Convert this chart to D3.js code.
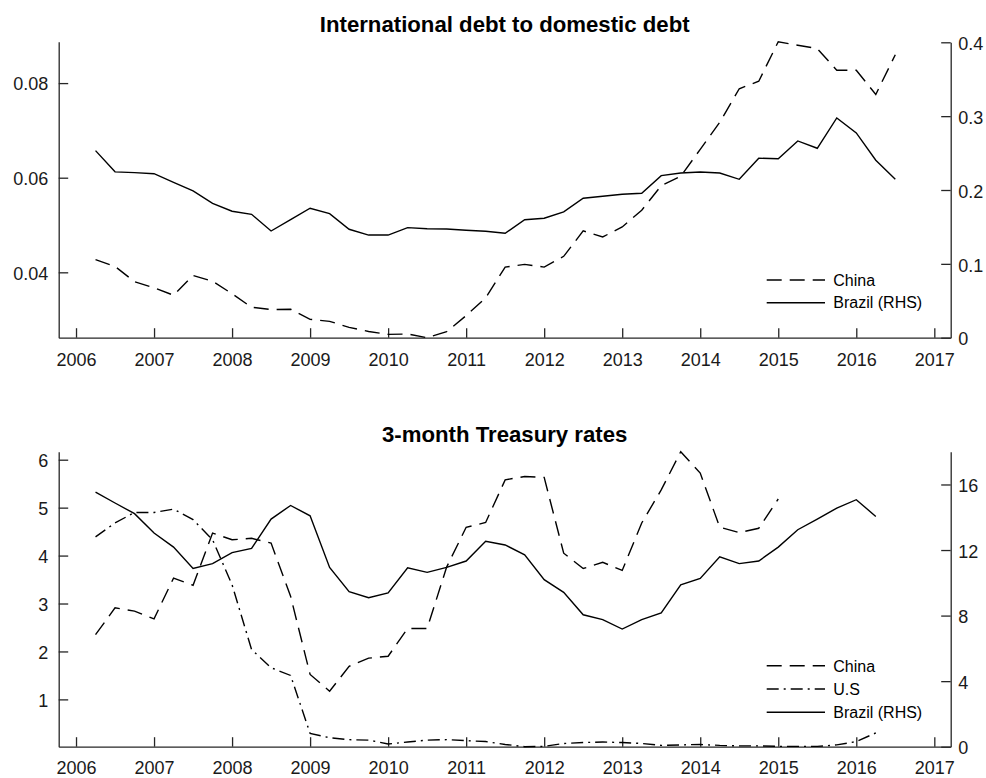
<!DOCTYPE html>
<html><head><meta charset="utf-8">
<script src="https://cdn.jsdelivr.net/npm/d3@7"></script>
<style>
html,body{margin:0;padding:0;background:#fff;}
svg{display:block;}
text{font-family:"Liberation Sans",Arial,Helvetica,sans-serif;}
</style></head><body>
<svg id="chart" width="986" height="778"></svg>
<script>
// ---------- DATA ----------
const quarters = [2006.25,2006.5,2006.75,2007,2007.25,2007.5,2007.75,2008,2008.25,2008.5,2008.75,
  2009,2009.25,2009.5,2009.75,2010,2010.25,2010.5,2010.75,2011,2011.25,2011.5,2011.75,
  2012,2012.25,2012.5,2012.75,2013,2013.25,2013.5,2013.75,2014,2014.25,2014.5,2014.75,
  2015,2015.25,2015.5,2015.75,2016,2016.25,2016.5];

// Panel 1: International debt to domestic debt
const debtChina = [0.04267,0.04125,0.0380,0.03673,0.03516,0.03934,0.03813,0.03546,0.03261,0.03212,0.03219,
  0.03006,0.02964,0.02836,0.0275,0.02688,0.02696,0.02618,0.02745,0.03085,0.0346,0.04111,0.04168,
  0.04111,0.04338,0.04875,0.04747,0.0496,0.05314,0.0583,0.0603,0.0660,0.0717,0.0788,0.0804,
  0.08875,0.0880,0.0873,0.0827,0.0827,0.0776,0.0860];
const debtBrazil = [0.2533,0.2246,0.2235,0.2221,0.2104,0.1987,0.182,0.1712,0.1671,0.1445,0.160,
  0.1753,0.168,0.1468,0.139,0.139,0.149,0.1476,0.1472,0.1455,0.1441,0.1414,0.1598,
  0.1617,0.1703,0.1888,0.1915,0.1942,0.1956,0.2194,0.223,0.2244,0.223,0.2145,0.243,
  0.2424,0.2664,0.2565,0.2976,0.2773,0.2403,0.2145];

// Panel 2: 3-month Treasury rates
const rateChina = [2.35,2.91,2.84,2.68,3.53,3.38,4.47,4.33,4.36,4.26,3.15,
  1.52,1.17,1.69,1.86,1.90,2.48,2.48,3.76,4.59,4.69,5.58,5.65,
  5.63,4.05,3.73,3.86,3.69,4.68,5.37,6.167,5.72,4.59,4.48,4.57,5.18];
const rateUS = [4.39,4.68,4.90,4.90,4.97,4.75,4.33,3.39,2.04,1.66,1.50,
  0.29,0.20,0.16,0.15,0.07,0.11,0.15,0.16,0.14,0.12,0.06,0.013,
  0.02,0.08,0.10,0.11,0.10,0.08,0.04,0.05,0.06,0.04,0.03,0.03,
  0.02,0.02,0.02,0.05,0.12,0.30];
const rateBrazil = [15.54,14.87,14.22,13.04,12.18,10.88,11.17,11.84,12.1,13.89,14.72,
  14.09,10.94,9.46,9.09,9.38,10.92,10.64,10.94,11.33,12.53,12.31,11.71,
  10.19,9.42,8.05,7.75,7.18,7.75,8.16,9.87,10.27,11.59,11.17,11.33,
  12.18,13.24,13.89,14.56,15.07,14.05];

const yearTicks = [2006,2007,2008,2009,2010,2011,2012,2013,2014,2015,2016,2017];
const debtLeftTicks = [0.04,0.06,0.08];
const debtRightTicks = [0,0.1,0.2,0.3,0.4];
const debtRightDomain = [0,0.4];
const rateLeftTicks = [1,2,3,4,5,6];
const rateRightTicks = [0,4,8,12,16];
const rateRightDomain = [0,18];
const xDomain = [2005.778, 2017.21];

// ---------- LAYOUT ----------
const svg = d3.select("#chart");
const L = 58.7, R = 950.7;
const axisColor = "#262626";
const x = d3.scaleLinear().domain(xDomain).range([L, R]);

const dashStyles = { dash: "15,8", dashdot: "12,5,2,5", solid: null };

function series(vals, style, name) {
  return { data: vals.map((v, i) => ({ t: quarters[i], v })), style, name };
}

function panel(opts) {
  const { top, bottom, title, leftDomain, leftTicks, leftFmt, rightDomain, rightTicks, rightFmt,
          leftSeries, rightSeries, legend, legendY, xPad } = opts;
  const g = svg.append("g");
  const yL = d3.scaleLinear().domain(leftDomain).range([bottom, top]);
  const yR = d3.scaleLinear().domain(rightDomain).range([bottom, top + (rightDomain === debtRightDomain ? 0.6 : 0)]);

  // x axis
  const xa = g.append("g").attr("transform", `translate(0,${bottom})`)
    .call(d3.axisBottom(x).tickValues(yearTicks).tickFormat(d3.format("d"))
      .tickSizeInner(-9.5).tickSizeOuter(0).tickPadding(xPad));
  // left axis
  const la = g.append("g").attr("transform", `translate(${L},0)`)
    .call(d3.axisLeft(yL).tickValues(leftTicks).tickFormat(leftFmt)
      .tickSizeInner(-9.5).tickSizeOuter(0).tickPadding(10.5));
  la.selectAll(".tick text").attr("dy", "0.38em");
  // right axis
  const ra = g.append("g").attr("transform", `translate(${R},0)`)
    .call(d3.axisRight(yR).tickValues(rightTicks).tickFormat(rightFmt)
      .tickSizeInner(-9.5).tickSizeOuter(0).tickPadding(7.5));
  ra.selectAll(".tick text").attr("dy", "0.4em");

  [xa, la, ra].forEach(a => {
    a.selectAll("path.domain").attr("stroke", axisColor).attr("stroke-width", 1.3);
    a.selectAll(".tick line").attr("stroke", axisColor).attr("stroke-width", 1.3);
    a.selectAll(".tick text").attr("fill", "#1a1a1a").attr("font-size", 18)
      .attr("font-family", '"Liberation Sans",Arial,sans-serif');
  });

  const lineL = d3.line().x(d => x(d.t)).y(d => yL(d.v));
  const lineR = d3.line().x(d => x(d.t)).y(d => yR(d.v));

  leftSeries.forEach(s => {
    g.append("path").datum(s.data).attr("d", lineL).attr("fill", "none")
      .attr("stroke", "#000").attr("stroke-width", 1.4)
      .attr("stroke-dasharray", dashStyles[s.style]);
  });
  rightSeries.forEach(s => {
    g.append("path").datum(s.data).attr("d", lineR).attr("fill", "none")
      .attr("stroke", "#000").attr("stroke-width", 1.4)
      .attr("stroke-dasharray", dashStyles[s.style]);
  });

  // title
  g.append("text").attr("x", (L + R) / 2).attr("y", top - 9.6)
    .attr("text-anchor", "middle").attr("font-weight", "bold").attr("font-size", 22.2)
    .attr("fill", "#000").text(title);

  // legend
  const lg = g.append("g");
  legend.forEach((s, i) => {
    const yy = legendY[i];
    lg.append("line").attr("x1", 766.7).attr("x2", 825).attr("y1", yy).attr("y2", yy)
      .attr("stroke", "#000").attr("stroke-width", 1.4)
      .attr("stroke-dasharray", dashStyles[s.style]);
    lg.append("text").attr("x", 833.3).attr("y", yy).attr("dy", "0.36em")
      .attr("font-size", 16).attr("fill", "#000").text(s.name);
  });
}

// Panel 1
const p1China = series(debtChina, "dash", "China");
const p1Brazil = series(debtBrazil, "solid", "Brazil (RHS)");
panel({
  top: 41.7, bottom: 337.7, xPad: 15.8,
  title: "International debt to domestic debt",
  leftDomain: d3.extent(debtChina), leftTicks: debtLeftTicks, leftFmt: d3.format(".2f"),
  rightDomain: debtRightDomain, rightTicks: debtRightTicks, rightFmt: d3.format("~g"),
  leftSeries: [p1China], rightSeries: [p1Brazil],
  legend: [p1China, p1Brazil], legendY: [280, 302.7]
});

// Panel 2
const p2China = series(rateChina, "dash", "China");
const p2US = series(rateUS, "dashdot", "U.S");
const p2Brazil = series(rateBrazil, "solid", "Brazil (RHS)");
panel({
  top: 451.7, bottom: 746.7, xPad: 14.5,
  title: "3-month Treasury rates",
  leftDomain: d3.extent(rateChina.concat(rateUS)), leftTicks: rateLeftTicks, leftFmt: d3.format("d"),
  rightDomain: rateRightDomain, rightTicks: rateRightTicks, rightFmt: d3.format("d"),
  leftSeries: [p2China, p2US], rightSeries: [p2Brazil],
  legend: [p2China, p2US, p2Brazil], legendY: [665.8, 689, 712.3]
});
</script>
</body></html>
